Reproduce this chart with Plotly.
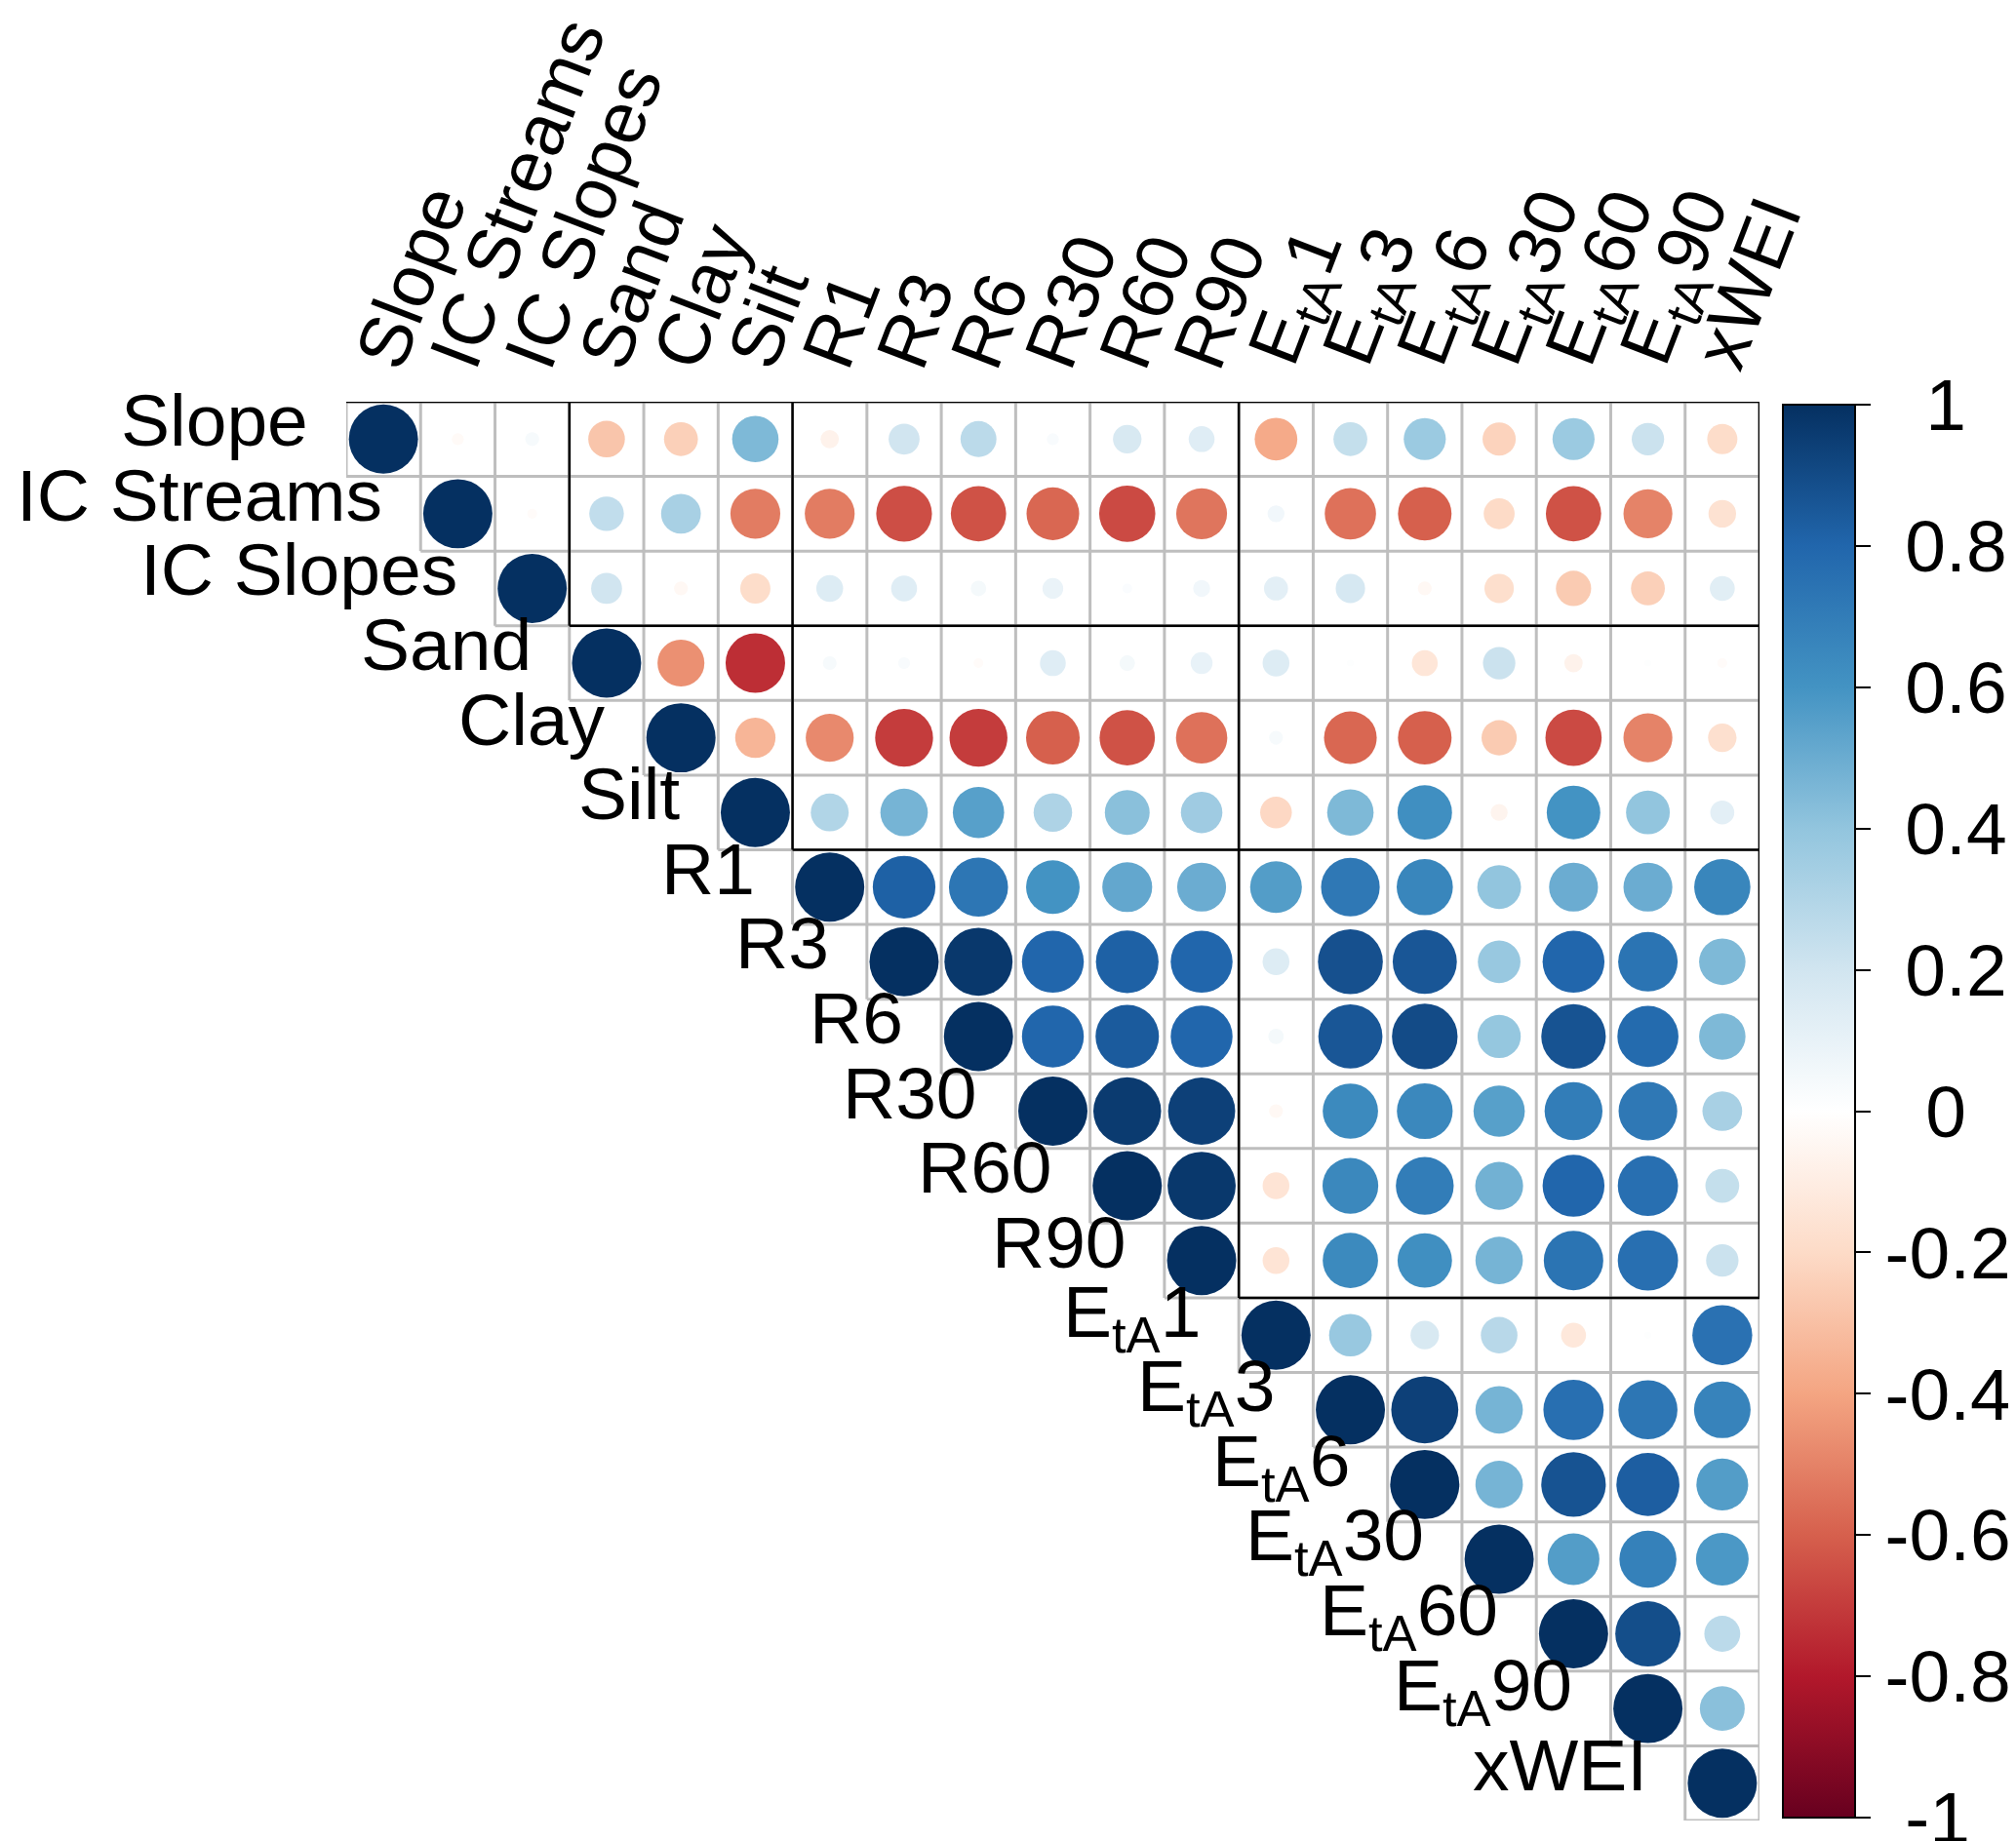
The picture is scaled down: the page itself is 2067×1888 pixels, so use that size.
import numpy as np
import plotly.graph_objects as go

# ---------------- data ----------------
row_labels = ["Slope", "IC Streams", "IC Slopes", "Sand", "Clay", "Silt",
              "R1", "R3", "R6", "R30", "R60", "R90",
              "E<sub>tA</sub>1", "E<sub>tA</sub>3", "E<sub>tA</sub>6",
              "E<sub>tA</sub>30", "E<sub>tA</sub>60", "E<sub>tA</sub>90", "xWEI"]
col_labels = row_labels

# upper-triangle correlations, each row starts at the diagonal
r_slope = [1, -0.03, 0.04, -0.28, -0.24, 0.45, -0.07, 0.20, 0.27, 0.03, 0.17, 0.14,
           -0.38, 0.24, 0.37, -0.23, 0.37, 0.22, -0.19]
r_ic_streams = [1, -0.02, 0.25, 0.33, -0.52, -0.52, -0.65, -0.64, -0.58, -0.66, -0.54,
                0.06, -0.55, -0.60, -0.20, -0.64, -0.50, -0.16]
r_ic_slopes = [1, 0.20, -0.04, -0.19, 0.15, 0.14, 0.05, 0.09, 0.02, 0.06,
               0.12, 0.18, -0.04, -0.18, -0.26, -0.24, 0.13]
r_sand = [1, -0.46, -0.74, 0.04, 0.03, -0.02, 0.14, 0.05, 0.10,
          0.15, 0.01, -0.14, 0.22, -0.07, 0.01, -0.02]
r_clay = [1, -0.34, -0.48, -0.70, -0.70, -0.60, -0.64, -0.55,
          0.04, -0.58, -0.60, -0.26, -0.66, -0.50, -0.17]
r_silt = [1, 0.30, 0.47, 0.55, 0.31, 0.42, 0.36, -0.21, 0.45, 0.62, -0.06, 0.60, 0.40, 0.12]
r_r1 = [1, 0.82, 0.73, 0.60, 0.52, 0.50, 0.56, 0.72, 0.66, 0.40, 0.50, 0.50, 0.66]
r_r3 = [1, 0.97, 0.80, 0.82, 0.80, 0.15, 0.88, 0.86, 0.38, 0.80, 0.74, 0.45]
r_r6 = [1, 0.80, 0.84, 0.80, 0.05, 0.86, 0.90, 0.39, 0.87, 0.78, 0.45]
r_r30 = [1, 0.96, 0.94, -0.04, 0.64, 0.65, 0.55, 0.70, 0.72, 0.33]
r_r60 = [1, 0.97, -0.15, 0.65, 0.70, 0.48, 0.80, 0.76, 0.24]
r_r90 = [1, -0.15, 0.64, 0.62, 0.47, 0.74, 0.76, 0.22]
r_eta1 = [1, 0.38, 0.17, 0.28, -0.13, 0.01, 0.75]
r_eta3 = [1, 0.94, 0.47, 0.76, 0.73, 0.67]
r_eta6 = [1, 0.47, 0.87, 0.83, 0.56]
r_eta30 = [1, 0.56, 0.68, 0.58]
r_eta60 = [1, 0.89, 0.27]
r_eta90 = [1, 0.42]
r_xwei = [1]

rows = [r_slope, r_ic_streams, r_ic_slopes, r_sand, r_clay, r_silt, r_r1, r_r3, r_r6,
        r_r30, r_r60, r_r90, r_eta1, r_eta3, r_eta6, r_eta30, r_eta60, r_eta90, r_xwei]

# cluster boundaries (number of variables in leading groups)
group_breaks = [3, 6, 12]

colorbar_ticks = [1, 0.8, 0.6, 0.4, 0.2, 0, -0.2, -0.4, -0.6, -0.8, -1]

# ---------------- styling ----------------
W, H = 2067, 1888
ML, MR, MT, MB = 347, 263, 404, 29
n = len(row_labels)
cell_px = (W - ML - MR) / n
plot_h = H - MT - MB
FONT = "Liberation Sans, Arial, sans-serif"
FS = 75

corr_colors = ["#67001F", "#B2182B", "#D6604D", "#F4A582", "#FDDBC7", "#FFFFFF",
               "#D1E5F0", "#92C5DE", "#4393C3", "#2166AC", "#053061"]
colorscale = [[i / 10, c] for i, c in enumerate(corr_colors)]

xs, ys, vals = [], [], []
for i, row in enumerate(rows):
    for k, v in enumerate(row):
        xs.append(i + k + 1)
        ys.append(i + 1)
        vals.append(v)
vals = np.array(vals)
sizes = 0.925 * cell_px * np.sqrt(np.abs(vals))

# grid lines for upper triangle
gx, gy = [], []
for k in range(n + 1):
    yb = k + 0.5
    x0 = 0.5 if k == 0 else k - 0.5
    gx += [x0, n + 0.5, None]
    gy += [yb, yb, None]
    xb = k + 0.5
    y1 = min(k + 1.5, n + 0.5)
    gx += [xb, xb, None]
    gy += [0.5, y1, None]

# black cluster rectangles
bx, by = [0.5, n + 0.5, None], [0.5, 0.5, None]
for b in group_breaks:
    bx += [b + 0.5, b + 0.5, None, b + 0.5, n + 0.5, None]
    by += [0.5, b + 0.5, None, b + 0.5, b + 0.5, None]
bx += [n + 0.5, n + 0.5, None]
by += [0.5, group_breaks[-1] + 0.5, None]

fig = go.Figure()
fig.add_trace(go.Scatter(x=gx, y=gy, mode="lines", line=dict(color="#BEBEBE", width=3),
                         hoverinfo="skip", showlegend=False))

def pad(t):
    widths = {"1": 2, "0": 2, "-1": 1}
    if t in widths:
        return "\u00a0" * widths[t] + t
    if not t.startswith("-"):
        return "\u00a0" + t
    return t

tick_text = [pad(f"{t:g}") for t in colorbar_ticks]

cb_top, cb_bot = 407, 1856
fig.add_trace(go.Scatter(
    x=xs, y=ys, mode="markers", showlegend=False, hoverinfo="skip",
    marker=dict(size=sizes, color=vals, colorscale=colorscale, cmin=-1, cmax=1,
                line=dict(width=0), opacity=1,
                showscale=True,
                colorbar=dict(
                    x=(1828 - ML) / (W - ML - MR), xanchor="left",
                    y=(H - MB - (cb_top + cb_bot) / 2) / plot_h, yanchor="middle",
                    lenmode="fraction", len=(cb_bot - cb_top) / plot_h,
                    thickness=74, thicknessmode="pixels",
                    xpad=0, ypad=0,
                    outlinewidth=2, outlinecolor="black",
                    ticks="outside", ticklen=15, tickwidth=2, tickcolor="black",
                    tickvals=colorbar_ticks, ticktext=tick_text,
                    ticklabeloverflow="allow",
                    tickfont=dict(family=FONT, size=FS, color="black"),
                ))))
fig.add_trace(go.Scatter(x=bx, y=by, mode="lines", line=dict(color="black", width=2.5),
                         hoverinfo="skip", showlegend=False))

annotations = []
for i, lab in enumerate(row_labels):
    annotations.append(dict(x=i + 0.5, y=i + 1, xref="x", yref="y", text=lab,
                            showarrow=False, xanchor="right", yanchor="middle",
                            xshift=-37, yshift=19,
                            font=dict(family=FONT, size=FS, color="black")))
for j, lab in enumerate(col_labels):
    annotations.append(dict(x=j + 1, y=0.5, xref="x", yref="y", text=lab,
                            showarrow=False, xanchor="left", yanchor="bottom",
                            textangle=-69, xshift=-0.627 * cell_px, yshift=21,
                            font=dict(family=FONT, size=FS, color="black")))

fig.update_layout(
    width=W, height=H,
    margin=dict(l=ML, r=MR, t=MT, b=MB),
    paper_bgcolor="white", plot_bgcolor="white",
    xaxis=dict(range=[0.5, n + 0.5], visible=False, fixedrange=True),
    yaxis=dict(range=[n + 0.5, 0.5], visible=False, fixedrange=True),
    annotations=annotations,
)

fig.write_html("out.html")
